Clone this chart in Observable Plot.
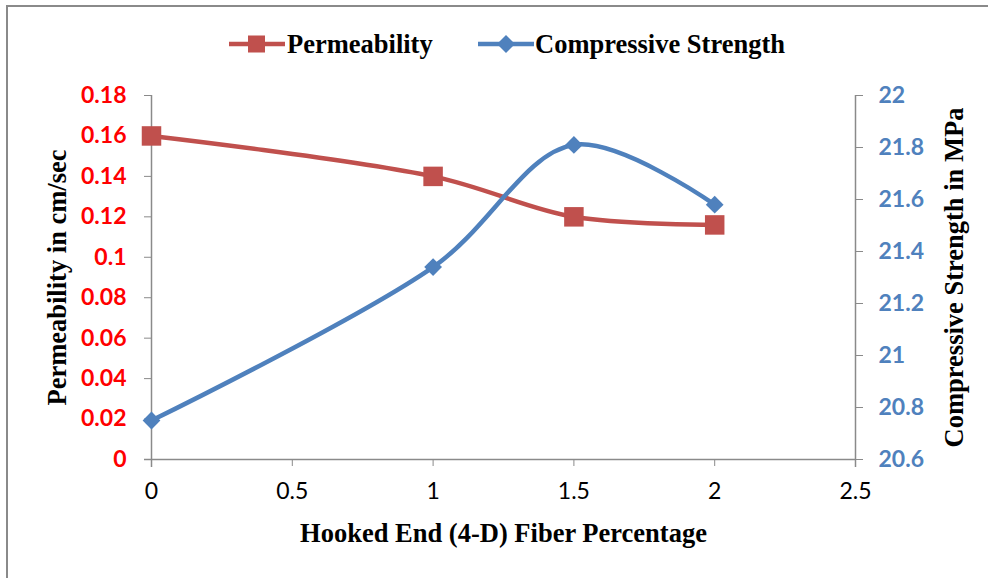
<!DOCTYPE html>
<html>
<head>
<meta charset="utf-8">
<script src="https://cdn.jsdelivr.net/npm/d3@7"></script>
<script src="https://cdn.jsdelivr.net/npm/@observablehq/plot@0.6"></script>
<style>
  html, body { margin: 0; padding: 0; background: #fff; }
  #wrap { position: relative; width: 988px; height: 578px; overflow: hidden; background: #fff; }
  #frame { position: absolute; left: 6px; top: 5px; width: 1000px; height: 600px; z-index: 5;
           border-top: 2px solid #8a8a8a; border-left: 2px solid #8a8a8a; box-sizing: border-box; }
  #legend { position: absolute; left: 0; top: 0; width: 988px; height: 75px; }
  .lg-sw { position: absolute; top: 34px; }
  .lg-tx { position: absolute; top: 28px; font-family: "Liberation Serif", serif; font-weight: bold;
           font-size: 26.5px; line-height: 32px; color: #000; white-space: nowrap; }
  #chart { position: absolute; left: 0; top: 75px; }
</style>
</head>
<body>
<div id="wrap">
  <div id="frame"></div>
  <div id="legend">
    <svg class="lg-sw" style="left:229px" width="56" height="20">
      <line x1="0" y1="10" x2="56" y2="10" stroke="#C0504D" stroke-width="4.5"/>
      <rect x="19" y="1.5" width="17" height="17" fill="#C0504D"/>
    </svg>
    <div class="lg-tx" style="left:287px">Permeability</div>
    <svg class="lg-sw" style="left:478px" width="56" height="20">
      <line x1="0" y1="10" x2="56" y2="10" stroke="#4F81BD" stroke-width="4.5"/>
      <polygon points="28,1 37,10 28,19 19,10" fill="#4F81BD"/>
    </svg>
    <div class="lg-tx" style="left:535px">Compressive Strength</div>
  </div>
  <div id="chart"></div>
</div>
<script>
// ---- data ----
const fiber = [0, 1, 1.5, 2];
const permeability = [0.16, 0.14, 0.12, 0.116];
const strength = [20.75, 21.34, 21.81, 21.58];
const xTicks = [0, 0.5, 1, 1.5, 2, 2.5];
const leftTicks = [0, 0.02, 0.04, 0.06, 0.08, 0.1, 0.12, 0.14, 0.16, 0.18];
const rightTicks = [20.6, 20.8, 21, 21.2, 21.4, 21.6, 21.8, 22];
const seriesNames = ["Permeability", "Compressive Strength"];

// ---- dual-axis mapping ----
const leftMax = 0.18, rMin = 20.6, rMax = 22;
const toLeft = v => (v - rMin) / (rMax - rMin) * leftMax;
const fromLeft = d => d / leftMax * (rMax - rMin) + rMin;

const permData = fiber.map((x, i) => ({x, y: permeability[i]}));
const strData = fiber.map((x, i) => ({x, y: toLeft(strength[i])}));

const RED = "#C0504D", BLUE = "#4F81BD", AXIS = "#8a8a8a";
const tickFont = "Lato, 'Open Sans', sans-serif";
const titleFont = "'Liberation Serif', 'Times New Roman', serif";

const chart = Plot.plot({
  width: 988,
  height: 503,
  marginTop: 20,
  marginBottom: 119,
  marginLeft: 151,
  marginRight: 133,
  style: {background: "none", overflow: "visible"},
  x: {domain: [0, 2.5]},
  y: {domain: [0, leftMax]},
  marks: [
    // axis lines
    Plot.ruleY([0], {stroke: AXIS, strokeWidth: 1.5, insetLeft: -7}),
    Plot.ruleX([0], {stroke: AXIS, strokeWidth: 1.5, insetBottom: -8}),
    Plot.ruleX([2.5], {stroke: AXIS, strokeWidth: 1.5, insetBottom: -8}),
    // left axis
    Plot.axisY({
      anchor: "left", ticks: leftTicks, tickSize: 7, tickPadding: 18,
      tickFormat: d => String(+d.toFixed(2)), label: null,
      stroke: AXIS, fill: "#FF0000",
      fontSize: 23, fontWeight: "bold", fontFamily: tickFont
    }),
    // right axis
    Plot.axisY({
      anchor: "right", ticks: rightTicks.map(toLeft), tickSize: 7, tickPadding: 16,
      tickFormat: d => String(+fromLeft(d).toFixed(1)), label: null,
      stroke: AXIS, fill: BLUE,
      fontSize: 23, fontWeight: "bold", fontFamily: tickFont
    }),
    // bottom axis
    Plot.axisX({
      anchor: "bottom", ticks: xTicks, tickSize: 7, tickPadding: 16,
      tickFormat: d => String(d), label: null,
      stroke: AXIS, fill: "#000",
      fontSize: 23, fontFamily: tickFont
    }),
    // axis titles
    Plot.text(["Permeability in cm/sec"], {frameAnchor: "left", dx: -94, rotate: -90,
      textAnchor: "middle", lineAnchor: "middle",
      fontSize: 26.5, fontWeight: "bold", fontFamily: titleFont, fill: "#000"}),
    Plot.text(["Compressive Strength in MPa"], {frameAnchor: "right", dx: 99, rotate: -90,
      textAnchor: "middle", lineAnchor: "middle",
      fontSize: 26.5, fontWeight: "bold", fontFamily: titleFont, fill: "#000"}),
    Plot.text(["Hooked End (4-D) Fiber Percentage"], {frameAnchor: "bottom", dy: 74,
      textAnchor: "middle", lineAnchor: "middle",
      fontSize: 26.5, fontWeight: "bold", fontFamily: titleFont, fill: "#000"}),
    // series
    Plot.line(permData, {x: "x", y: "y", stroke: RED, strokeWidth: 4.5, curve: "catmull-rom"}),
    Plot.line(strData, {x: "x", y: "y", stroke: BLUE, strokeWidth: 4.5, curve: "catmull-rom"}),
    Plot.dot(permData, {x: "x", y: "y", symbol: "square", r: 11, fill: RED, stroke: "none"}),
    Plot.dot(strData, {x: "x", y: "y", symbol: "diamond2", r: 8, fill: BLUE, stroke: "none"})
  ]
});
document.getElementById("chart").appendChild(chart);
</script>
</body>
</html>
